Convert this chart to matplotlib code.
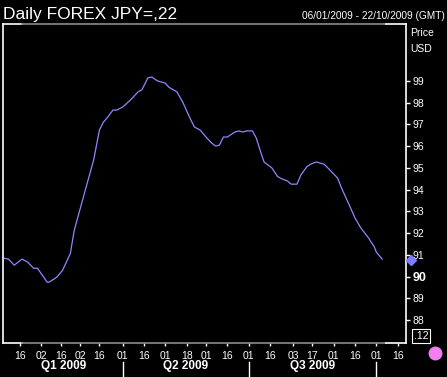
import numpy as np
import pandas as pd
import matplotlib
matplotlib.use("Agg")
import matplotlib.pyplot as plt
from matplotlib.lines import Line2D

plt.rcParams["font.family"] = ["Liberation Sans", "DejaVu Sans"]

TITLE = "Daily FOREX JPY=,22"
RANGE_TEXT = "06/01/2009 - 22/10/2009 (GMT)"
START = "2009-01-06"
END = "2009-10-22"

dates = [
    "2009-01-06", "2009-01-08", "2009-01-13", "2009-01-19", "2009-01-22",
    "2009-01-27", "2009-01-29", "2009-02-05", "2009-02-06", "2009-02-12",
    "2009-02-17", "2009-02-23", "2009-02-25", "2009-03-04", "2009-03-11",
    "2009-03-16", "2009-03-18", "2009-03-20", "2009-03-25", "2009-03-27",
    "2009-04-01", "2009-04-07", "2009-04-13", "2009-04-15", "2009-04-20",
    "2009-04-22", "2009-04-27", "2009-05-01", "2009-05-05", "2009-05-11",
    "2009-05-14", "2009-05-19", "2009-05-22", "2009-05-27", "2009-06-01",
    "2009-06-04", "2009-06-08", "2009-06-10", "2009-06-12", "2009-06-16",
    "2009-06-22", "2009-06-24", "2009-06-26", "2009-06-30", "2009-07-03",
    "2009-07-07", "2009-07-09", "2009-07-13", "2009-07-17", "2009-07-22",
    "2009-07-24", "2009-07-29", "2009-07-31", "2009-08-05", "2009-08-07",
    "2009-08-12", "2009-08-14", "2009-08-19", "2009-08-25", "2009-08-28",
    "2009-09-03", "2009-09-07", "2009-09-11", "2009-09-16", "2009-09-21",
    "2009-09-25", "2009-09-30", "2009-10-01", "2009-10-06",
]
prices = [
    90.84, 90.80, 90.52, 90.80, 90.66,
    90.38, 90.38, 89.74, 89.74, 89.97,
    90.29, 91.07, 92.13, 93.75, 95.36,
    96.74, 97.10, 97.30, 97.66, 97.66,
    97.80, 98.12, 98.50, 98.60, 99.14,
    99.18, 99.00, 98.90, 98.70, 98.50,
    98.03, 97.43, 96.88, 96.74, 96.42,
    96.14, 96.00, 96.05, 96.42, 96.42,
    96.65, 96.70, 96.65, 96.70, 96.70,
    96.37, 95.80, 95.27, 95.00, 94.60,
    94.50, 94.40, 94.25, 94.25, 94.67,
    95.04, 95.17, 95.27, 95.17, 94.90,
    94.53, 94.07, 93.29, 92.69, 92.23,
    91.77, 91.35, 91.12, 90.80,
]
last_price = 90.75

tick_dates = [
    "2009-01-16", "2009-02-02", "2009-02-16", "2009-03-02", "2009-03-16",
    "2009-04-01", "2009-04-16", "2009-05-01", "2009-05-18", "2009-06-01",
    "2009-06-16", "2009-07-01", "2009-07-16", "2009-08-03", "2009-08-17",
    "2009-09-01", "2009-09-16", "2009-10-01", "2009-10-16",
]
quarter_labels = ["Q1 2009", "Q2 2009", "Q3 2009"]
quarter_bounds = ["2009-01-06", "2009-04-01", "2009-07-01", "2009-10-01"]
y_ticks = list(range(88, 100))


def bday(d):
    # position on a trading-day axis
    return np.busday_count(START, d)


x = [bday(d) for d in dates]
xmin, xmax = -0.8, bday(END) + 0.3

fig = plt.figure(figsize=(4.47, 3.77), dpi=100, facecolor="black")
ax = fig.add_axes([3 / 447, 34 / 377, 403 / 447, 319 / 377], facecolor="black")

ax.plot(x, prices, color="#8a8aff", lw=0.9)
ax.set_xlim(xmin, xmax)
ax.set_ylim(86.94, 101.62)

for s in ["top", "bottom"]:
    ax.spines[s].set_visible(False)
for s in ["left", "right"]:
    ax.spines[s].set_color("white")
    ax.spines[s].set_linewidth(1.2)

# top/bottom frame: white ends, grey middle
a, b = 19 / 403, 383 / 403
for yy in (1, 0):
    ax.plot([0, a], [yy, yy], color="white", lw=1.2, transform=ax.transAxes, clip_on=False)
    ax.plot([a, b], [yy, yy], color="#8c8c8c", lw=1.2, transform=ax.transAxes, clip_on=False)
    ax.plot([b, 1], [yy, yy], color="white", lw=1.2, transform=ax.transAxes, clip_on=False)

ax.yaxis.tick_right()
ax.set_yticks(y_ticks)
ax.set_yticklabels([str(v) for v in y_ticks])
ax.tick_params(axis="y", colors="white", labelsize=7.5, length=3, width=1, pad=2)
for lab in ax.get_yticklabels():
    if lab.get_text() == "90":
        lab.set_fontweight("bold")
        lab.set_fontsize(9)

ax.set_xticks([bday(d) for d in tick_dates])
ax.set_xticklabels([d[-2:] for d in tick_dates])
ax.tick_params(axis="x", colors="white", labelsize=7.5, length=2, width=1, pad=4)

# quarter labels and separators
for i, q in enumerate(quarter_labels):
    c = (bday(quarter_bounds[i]) + bday(quarter_bounds[i + 1])) / 2
    ax.text(c, -0.072, q, transform=ax.get_xaxis_transform(), color="white",
            fontsize=8.5, fontweight="bold", ha="center", va="center")
for d in quarter_bounds[1:]:
    ax.plot([bday(d), bday(d)], [-0.06, -0.11], color="white", lw=1,
            transform=ax.get_xaxis_transform(), clip_on=False)

# last value marker
ax.plot([xmax + 2.5], [last_price], marker="D", ms=5, color="#7d7dff",
        clip_on=False, zorder=5)

fig.text(3 / 447, 1 - 15 / 377, TITLE, color="white", fontsize=12.5, ha="left", va="center")
fig.text(445 / 447, 1 - 16 / 377, RANGE_TEXT, color="white", fontsize=7.3, ha="right", va="center")
fig.text(410 / 447, 1 - 33 / 377, "Price", color="white", fontsize=7.5, ha="left", va="center")
fig.text(410 / 447, 1 - 49 / 377, "USD", color="white", fontsize=7.5, ha="left", va="center")
fig.text(414 / 447, 1 - 336 / 377, ".12", color="white", fontsize=7.5, ha="left", va="center",
         bbox=dict(boxstyle="square,pad=0.15", fc="black", ec="white", lw=0.8))
fig.add_artist(Line2D([435 / 447], [1 - 353 / 377], marker="o", ms=9, color="#f27ff2",
                      transform=fig.transFigure))

fig.savefig("out.png", dpi=100, facecolor="black")
